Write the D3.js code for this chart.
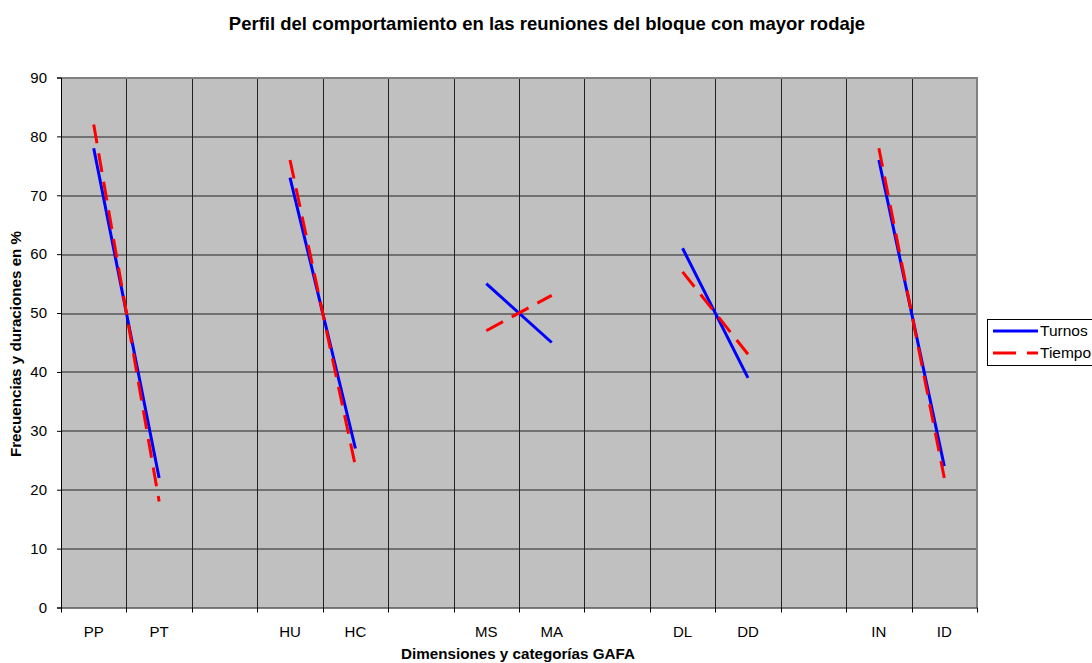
<!DOCTYPE html>
<html>
<head>
<meta charset="utf-8">
<script src="https://cdn.jsdelivr.net/npm/d3@7"></script>
<style>
  body { margin: 0; background: #fff; }
  text { font-family: "Liberation Sans", Arial, sans-serif; }
</style>
</head>
<body>
<div id="chart"></div>
<script>
// categories, blanks are empty slots between dimensions
const categories = ["PP", "PT", "", "HU", "HC", "", "MS", "MA", "", "DL", "DD", "", "IN", "ID"];
const turnos = [78, 22, null, 73, 27, null, 55, 45, null, 61, 39, null, 76, 24];
const tiempo = [82, 18, null, 76, 24, null, 47, 53, null, 57, 43, null, 78, 22];
const yTicks = [0, 10, 20, 30, 40, 50, 60, 70, 80, 90];

const W = 1092, H = 663;
const margin = {top: 77.5, right: 115, bottom: 55.5, left: 61};
const w = W - margin.left - margin.right;
const h = H - margin.top - margin.bottom;
const dash = '19,10';

const svg = d3.select('#chart').append('svg')
  .attr('width', W)
  .attr('height', H);

const x = d3.scaleBand()
  .domain(d3.range(categories.length))
  .range([0, w]);

const y = d3.scaleLinear()
  .domain([0, 90])
  .range([h, 0]);

const g = svg.append('g')
  .attr('transform', `translate(${margin.left},${margin.top})`);

g.append('rect')
  .attr('width', w)
  .attr('height', h)
  .attr('fill', '#c0c0c0');

// horizontal grid
g.selectAll('.hgrid')
  .data(yTicks.slice(1))
  .enter()
  .append('line')
  .attr('x1', 0)
  .attr('x2', w)
  .attr('y1', d => Math.round(y(d)) + 0.5)
  .attr('y2', d => Math.round(y(d)) + 0.5)
  .attr('stroke', '#222')
  .attr('stroke-width', 1);

// vertical grid at category boundaries
g.selectAll('.vgrid')
  .data(d3.range(1, categories.length))
  .enter()
  .append('line')
  .attr('x1', d => Math.round(x(d)) + 0.5)
  .attr('x2', d => Math.round(x(d)) + 0.5)
  .attr('y1', 0)
  .attr('y2', h)
  .attr('stroke', '#222')
  .attr('stroke-width', 1);

// border top/right
g.append('path')
  .attr('d', `M0,0.5H${w}V${h}`)
  .attr('fill', 'none')
  .attr('stroke', '#808080')
  .attr('stroke-width', 2);

// y axis
const yAxis = g.append('g')
  .call(d3.axisLeft(y).tickValues(yTicks).tickSize(4).tickPadding(10));
yAxis.select('.domain').attr('stroke', '#000');
yAxis.selectAll('text').style('font-size', '15px').attr('fill', '#000');

// x axis with ticks at boundaries
const xAxisG = g.append('g')
  .attr('transform', `translate(0,${h})`);
xAxisG.append('line')
  .attr('x1', 0).attr('x2', w)
  .attr('y1', 0.5).attr('y2', 0.5)
  .attr('stroke', '#000');
xAxisG.selectAll('.tick')
  .data(d3.range(0, categories.length + 1))
  .enter()
  .append('line')
  .attr('x1', d => Math.round(d * x.step()) + 0.5)
  .attr('x2', d => Math.round(d * x.step()) + 0.5)
  .attr('y1', 0)
  .attr('y2', 5)
  .attr('stroke', '#000');
xAxisG.selectAll('.lab')
  .data(categories)
  .enter()
  .append('text')
  .attr('x', (d, i) => x(i) + x.bandwidth() / 2)
  .attr('y', 29)
  .attr('text-anchor', 'middle')
  .style('font-size', '15px')
  .text(d => d);

const line = d3.line()
  .defined(d => d != null)
  .x((d, i) => x(i) + x.bandwidth() / 2)
  .y(d => y(d));

g.append('path')
  .datum(turnos)
  .attr('d', line)
  .attr('fill', 'none')
  .attr('stroke', '#0000ff')
  .attr('stroke-width', 3);

g.append('path')
  .datum(tiempo)
  .attr('d', line)
  .attr('fill', 'none')
  .attr('stroke', '#ff0000')
  .attr('stroke-width', 3)
  .attr('stroke-dasharray', dash);

// titles
svg.append('text')
  .attr('x', 547)
  .attr('y', 30)
  .attr('text-anchor', 'middle')
  .style('font-size', '18.5px')
  .style('font-weight', 'bold')
  .text('Perfil del comportamiento en las reuniones del bloque con mayor rodaje');

svg.append('text')
  .attr('x', 518)
  .attr('y', 659)
  .attr('text-anchor', 'middle')
  .style('font-size', '15.2px')
  .style('font-weight', 'bold')
  .text('Dimensiones y categorías GAFA');

svg.append('text')
  .attr('transform', 'translate(21,344) rotate(-90)')
  .attr('text-anchor', 'middle')
  .style('font-size', '15.2px')
  .style('font-weight', 'bold')
  .text('Frecuencias y duraciones en %');

// legend
const leg = svg.append('g').attr('transform', 'translate(987,319)');
leg.append('rect')
  .attr('x', 0.5).attr('y', 0.5)
  .attr('width', 120).attr('height', 46)
  .attr('fill', '#fff')
  .attr('stroke', '#000');
const legItems = [
  {name: 'Turnos', color: '#0000ff', dash: null},
  {name: 'Tiempo', color: '#ff0000', dash: '23,11'}
];
legItems.forEach((d, i) => {
  leg.append('line')
    .attr('x1', 6).attr('x2', 51)
    .attr('y1', 12 + i * 22).attr('y2', 12 + i * 22)
    .attr('stroke', d.color)
    .attr('stroke-width', 3)
    .attr('stroke-dasharray', d.dash);
  leg.append('text')
    .attr('x', 53)
    .attr('y', 17 + i * 22)
    .style('font-size', '15.5px')
    .text(d.name);
});
</script>
</body>
</html>
